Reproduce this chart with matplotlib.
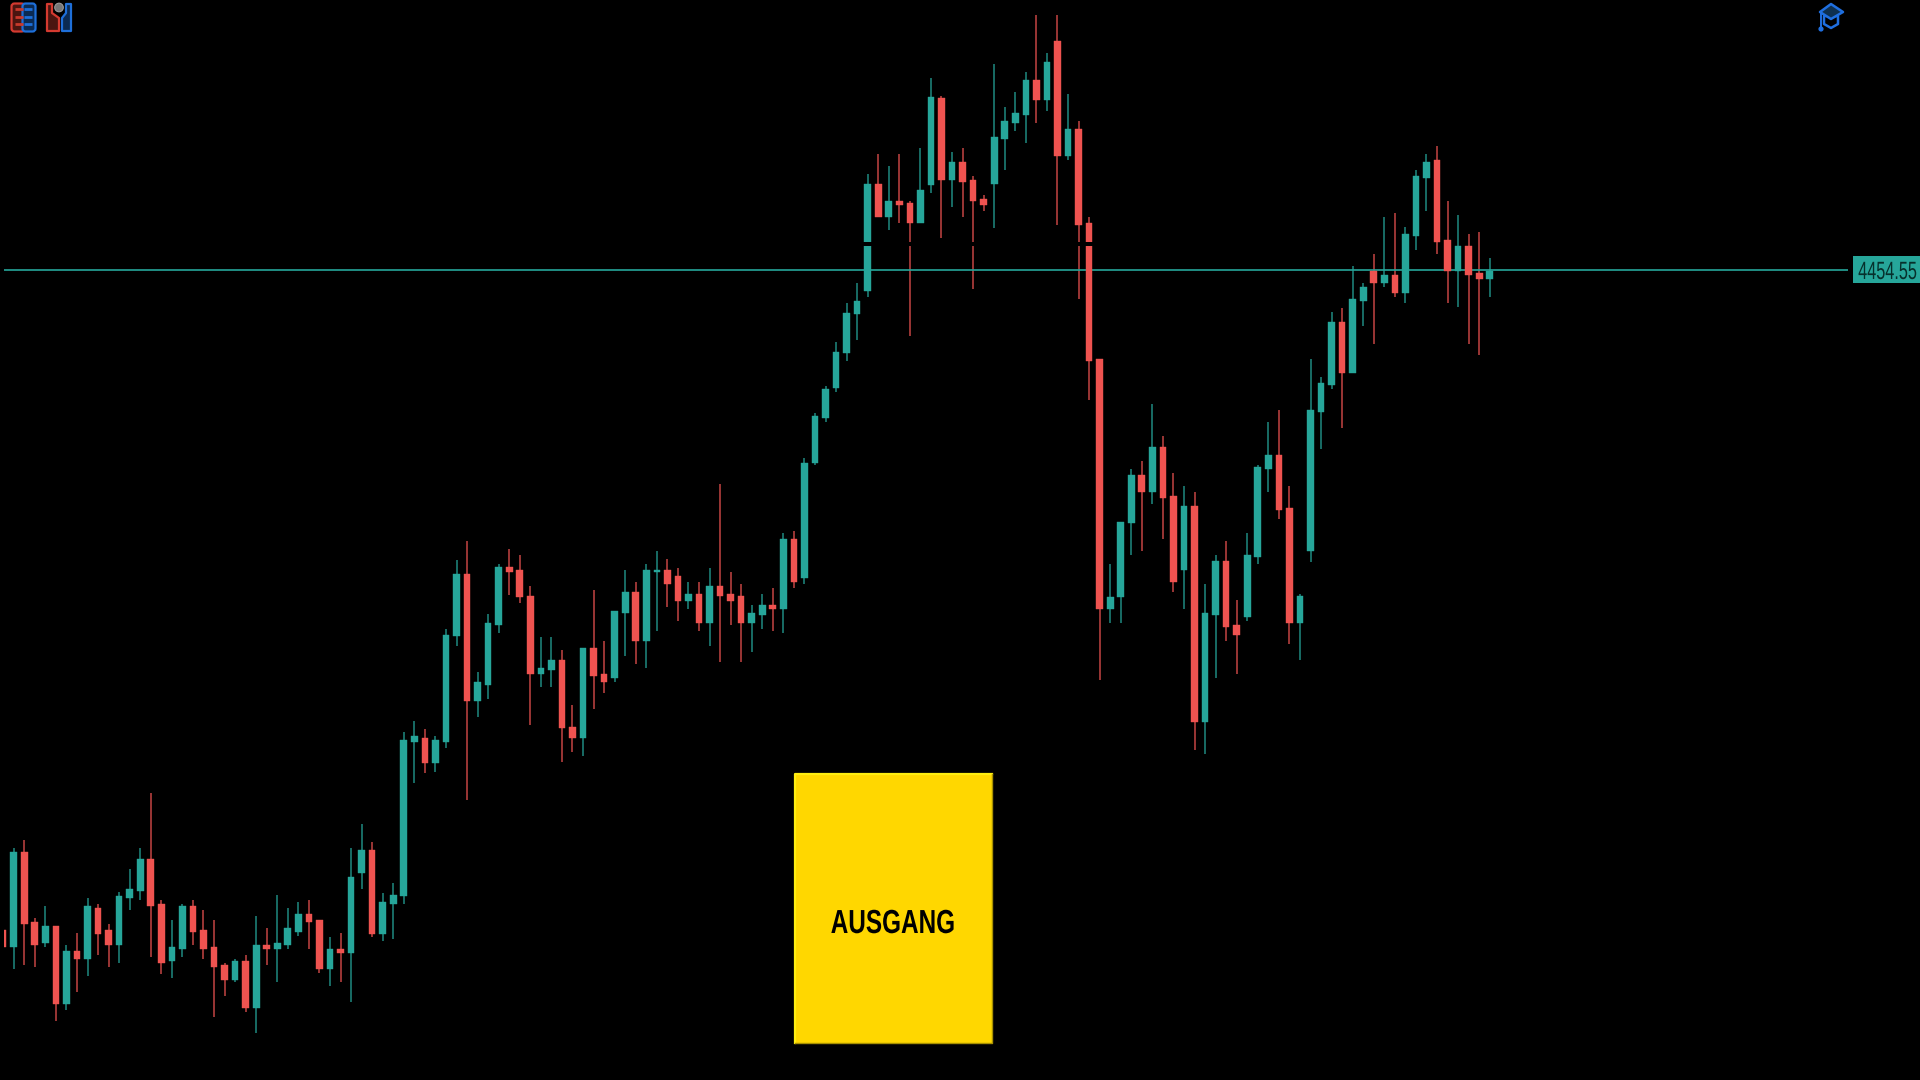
import matplotlib
matplotlib.use('Agg')
import matplotlib.pyplot as plt
from matplotlib.patches import Rectangle, Polygon, Circle, FancyBboxPatch
from matplotlib.patheffects import AbstractPathEffect
from matplotlib.transforms import Affine2D

opens = [3795.2, 3777.9, 3873.2, 3802.9, 3781.6, 3799.2, 3721.2, 3773.6, 3765.9, 3816.6,
         3795.2, 3779.6, 3826.6, 3834.2, 3865.6, 3820.6, 3764.2, 3775.9, 3818.6, 3795.2,
         3777.6, 3760.2, 3744.6, 3763.9, 3717.2, 3779.6, 3775.9, 3779.6, 3793.2, 3810.9,
         3805.2, 3756.2, 3775.9, 3771.9, 3851.9, 3875.2, 3791.2, 3820.6, 3828.6, 3982.9,
         3986.6, 3961.6, 3982.9, 4088.6, 4150.6, 4023.9, 4039.6, 4100.2, 4158.2, 4154.6,
         4129.2, 4051.2, 4055.2, 4064.6, 3998.2, 3986.6, 4076.6, 4051.2, 4047.2, 4111.6,
         4133.2, 4084.2, 4152.9, 4154.6, 4148.6, 4123.6, 4131.2, 4101.9, 4138.9, 4131.2,
         4129.2, 4101.9, 4109.6, 4119.6, 4115.6, 4185.9, 4146.9, 4261.9, 4306.9, 4336.9,
         4371.6, 4410.6, 4433.9, 4541.2, 4508.2, 4523.6, 4521.6, 4502.2, 4539.6, 4627.2,
         4545.2, 4562.9, 4545.2, 4525.6, 4541.2, 4586.2, 4601.9, 4609.6, 4644.9, 4625.2,
         4683.9, 4568.6, 4595.9, 4502.2, 4365.6, 4115.9, 4127.6, 4201.6, 4250.2, 4232.9,
         4277.6, 4228.9, 4154.9, 4219.2, 4002.6, 4109.9, 4164.2, 4099.9, 4107.9, 4168.2,
         4256.2, 4269.9, 4217.2, 4101.9, 4174.2, 4312.9, 4340.2, 4402.6, 4352.2, 4424.2,
         4453.6, 4441.9, 4449.6, 4432.2, 4488.9, 4547.2, 4564.9, 4484.6, 4453.6, 4478.9,
         4451.6, 4445.6]

closes = [3777.9, 3873.2, 3801.2, 3779.6, 3799.2, 3721.2, 3773.6, 3765.9, 3818.6, 3791.2,
          3779.6, 3828.6, 3836.2, 3865.6, 3818.6, 3762.2, 3777.6, 3818.6, 3793.2, 3775.9,
          3758.2, 3744.6, 3763.9, 3717.2, 3779.6, 3775.9, 3781.6, 3797.2, 3810.9, 3802.9,
          3756.2, 3775.9, 3771.9, 3847.9, 3875.2, 3791.2, 3822.6, 3830.2, 3984.9, 3988.6,
          3961.6, 3984.6, 4090.2, 4150.6, 4023.9, 4043.2, 4101.9, 4158.2, 4152.9, 4127.6,
          4051.2, 4056.9, 4064.6, 3996.6, 3986.6, 4076.6, 4049.2, 4043.2, 4113.6, 4133.2,
          4084.2, 4154.6, 4154.6, 4140.9, 4123.6, 4131.2, 4101.9, 4138.9, 4129.2, 4123.6,
          4101.9, 4111.6, 4119.6, 4115.6, 4185.9, 4143.2, 4261.9, 4308.9, 4335.9, 4373.2,
          4412.2, 4423.9, 4541.2, 4508.2, 4523.6, 4519.9, 4502.2, 4535.2, 4627.6, 4545.2,
          4562.9, 4543.2, 4523.9, 4519.9, 4588.2, 4603.9, 4611.6, 4644.9, 4625.2, 4662.6,
          4568.6, 4595.9, 4500.2, 4363.9, 4115.9, 4127.6, 4203.2, 4250.2, 4232.9, 4277.6,
          4227.2, 4143.2, 4219.2, 4002.6, 4111.6, 4164.2, 4098.2, 4090.2, 4170.2, 4258.2,
          4269.9, 4215.2, 4101.9, 4129.2, 4314.9, 4342.2, 4402.6, 4352.2, 4425.9, 4437.6,
          4441.9, 4449.6, 4432.2, 4490.6, 4549.2, 4562.9, 4482.9, 4453.6, 4478.9, 4449.6,
          4445.6, 4453.6]

highs = [3795.2, 3877.2, 3884.9, 3806.9, 3818.9, 3799.2, 3779.6, 3791.6, 3826.6, 3820.6,
         3801.2, 3832.6, 3855.9, 3877.2, 3931.9, 3824.6, 3805.2, 3820.6, 3824.6, 3814.9,
         3805.2, 3762.2, 3765.9, 3769.9, 3808.9, 3797.2, 3830.2, 3816.6, 3822.6, 3824.6,
         3805.2, 3787.6, 3791.6, 3877.2, 3900.9, 3883.2, 3832.2, 3842.2, 3992.6, 4004.2,
         3996.2, 3988.6, 4096.2, 4164.6, 4183.9, 4053.2, 4111.2, 4160.6, 4176.2, 4170.2,
         4138.9, 4088.2, 4088.2, 4074.6, 4019.9, 4076.6, 4134.9, 4084.2, 4113.6, 4154.6,
         4142.9, 4160.6, 4174.2, 4166.2, 4156.6, 4142.9, 4142.9, 4156.6, 4240.6, 4152.6,
         4140.9, 4119.6, 4131.2, 4137.2, 4191.6, 4193.6, 4266.9, 4311.9, 4338.9, 4383.2,
         4422.2, 4441.6, 4551.2, 4570.6, 4558.9, 4570.6, 4523.6, 4576.6, 4646.9, 4629.2,
         4572.6, 4576.6, 4549.2, 4529.6, 4660.6, 4617.6, 4633.2, 4652.9, 4709.6, 4672.2,
         4709.6, 4631.2, 4603.9, 4508.2, 4365.6, 4160.6, 4203.2, 4256.2, 4263.9, 4320.6,
         4289.2, 4252.2, 4238.6, 4232.6, 4141.2, 4170.2, 4183.9, 4125.2, 4191.9, 4260.2,
         4303.2, 4314.9, 4238.6, 4131.2, 4365.6, 4347.9, 4412.6, 4416.6, 4459.2, 4441.6,
         4471.2, 4508.2, 4512.2, 4498.2, 4554.9, 4570.9, 4578.6, 4523.6, 4510.2, 4490.6,
         4492.6, 4466.9]

lows = [3777.9, 3756.2, 3760.2, 3758.2, 3777.6, 3703.6, 3715.2, 3732.9, 3748.6, 3769.9,
        3758.2, 3762.2, 3814.9, 3824.6, 3767.9, 3750.6, 3746.6, 3767.9, 3779.6, 3765.9,
        3707.6, 3728.9, 3742.6, 3713.2, 3691.9, 3760.2, 3742.6, 3775.9, 3789.2, 3775.9,
        3752.2, 3738.9, 3742.6, 3723.2, 3836.2, 3787.6, 3783.6, 3785.6, 3820.6, 3941.9,
        3951.9, 3952.9, 3976.9, 4078.6, 3924.9, 4008.2, 4025.6, 4092.2, 4129.6, 4121.6,
        4000.2, 4037.6, 4037.6, 3963.2, 3972.9, 3969.2, 4015.9, 4031.6, 4043.2, 4068.9,
        4060.9, 4056.9, 4094.2, 4117.6, 4103.9, 4115.6, 4094.2, 4078.6, 4062.9, 4099.9,
        4062.9, 4072.6, 4096.2, 4094.2, 4092.2, 4137.2, 4140.9, 4259.9, 4302.9, 4332.9,
        4363.9, 4384.9, 4427.9, 4508.2, 4494.6, 4502.2, 4389.2, 4502.2, 4531.6, 4486.6,
        4517.9, 4508.2, 4435.9, 4513.9, 4496.6, 4554.9, 4594.2, 4582.2, 4601.9, 4613.6,
        4500.2, 4564.6, 4426.2, 4324.9, 4045.2, 4101.9, 4101.9, 4170.2, 4174.2, 4221.2,
        4185.9, 4133.2, 4115.6, 3974.9, 3970.9, 4047.2, 4084.2, 4051.2, 4103.9, 4160.6,
        4232.9, 4205.6, 4080.6, 4064.9, 4162.6, 4275.9, 4336.2, 4297.2, 4352.2, 4398.6,
        4381.2, 4437.9, 4428.2, 4422.2, 4474.9, 4513.9, 4470.9, 4422.2, 4418.2, 4381.2,
        4369.6, 4428.2]

last_price = 4454.55
last_price_label = '4454.55'
exit_label = 'AUSGANG'

UP = '#26a69a'
DOWN = '#ef5350'
UP_WICK = '#1f8a80'
DOWN_WICK = '#c44543'

W, H = 1920, 1080


class Squeeze(AbstractPathEffect):
    # no condensed font is installed, so narrow the glyphs around an anchor x
    def __init__(self, anchor_px, factor):
        super().__init__()
        self.anchor_px = anchor_px
        self.factor = factor

    def draw_path(self, renderer, gc, tpath, affine, rgbFace=None):
        narrow = Affine2D().translate(-self.anchor_px, 0).scale(self.factor, 1).translate(self.anchor_px, 0)
        renderer.draw_path(gc, tpath, affine + narrow, rgbFace)


fig = plt.figure(figsize=(W / 100, H / 100), dpi=100, facecolor='black')

# price axes, no scale shown in the picture
ax = fig.add_axes([4 / W, 0, (W - 4) / W, 1], facecolor='black')
ax.set_xlim(0.08, 181.81)
ax.set_ylim(3644.9, 4724.9)
ax.axis('off')

xs = list(range(len(opens)))
wick_colors = [UP_WICK if c >= o else DOWN_WICK for o, c in zip(opens, closes)]
body_colors = [UP if c >= o else DOWN for o, c in zip(opens, closes)]
bottoms = [min(o, c) for o, c in zip(opens, closes)]
heights = [abs(c - o) for o, c in zip(opens, closes)]

ax.vlines(xs, lows, highs, colors=wick_colors, linewidth=1.1, zorder=1)
ax.hlines(last_price, 0, 175.0, colors=UP, linewidth=1.2, zorder=2)
ax.bar(xs, heights, width=0.63, bottom=bottoms, color=body_colors,
       edgecolor=body_colors, linewidth=0.3, zorder=3)

# thin black strip that cuts the candles in the reference
ax.add_patch(Rectangle((81.5, 4479.0), 22.5, 4.0, color='black', lw=0, zorder=4))

# overlay in pixels for the buttons and icons
ui = fig.add_axes([0, 0, 1, 1], facecolor='none')
ui.set_xlim(0, W)
ui.set_ylim(H, 0)
ui.axis('off')

# last price tag
ui.add_patch(Rectangle((1853, 256), 67, 27, color=UP, lw=0))
tag = ui.text(1917, 279, last_price_label, color='#06302c', fontsize=18, ha='right', va='baseline',
              family='Liberation Sans')
tag.set_path_effects([Squeeze(1917, 0.65)])

# exit button
ui.add_patch(Rectangle((795, 774), 197, 269, facecolor='#ffd700', edgecolor='none'))
ui.plot([795, 795, 992], [1043, 774, 774], color='#ffee10', lw=1.6)
ui.plot([795, 992, 992], [1043, 1043, 774], color='#a89000', lw=1.0)
exit_text = ui.text(893, 933, exit_label, color='black', fontsize=24, fontweight='bold',
                    ha='center', va='baseline', family='Liberation Sans')
exit_text.set_path_effects([Squeeze(893, 0.73)])

# list icon
ui.add_patch(FancyBboxPatch((13, 5), 10, 25, boxstyle='round,pad=1.5,rounding_size=3',
                            facecolor='#4a1510', edgecolor='#d43a30', lw=1.6))
ui.add_patch(FancyBboxPatch((24, 5), 10, 25, boxstyle='round,pad=1.5,rounding_size=3',
                            facecolor='#0b2a52', edgecolor='#1e6fd9', lw=1.6))
for row_y in [9, 17, 24]:
    ui.plot([15, 23], [row_y, row_y], color='#c8392c', lw=2.0, solid_capstyle='butt')
    ui.plot([24, 32], [row_y, row_y], color='#1e6fd9', lw=2.0, solid_capstyle='butt')

# chart icon
ui.add_patch(Polygon([(47, 4), (52, 4), (52, 13), (59, 18), (59, 31), (47, 31)],
                     facecolor='#4a1510', edgecolor='#d43a30', lw=1.6, joinstyle='round'))
ui.add_patch(Polygon([(71, 4), (66, 4), (66, 13), (62, 18), (62, 31), (71, 31)],
                     facecolor='#0b2a52', edgecolor='#1e6fd9', lw=1.6, joinstyle='round'))
ui.add_patch(Circle((59, 7.5), 4.3, facecolor='#777777', edgecolor='#999999', lw=0.8))

# graduation cap
cap_blue = '#1f6fe0'
ui.add_patch(Polygon([(1824, 16), (1824, 24), (1831, 28), (1838, 24), (1838, 16)],
                     facecolor='none', edgecolor=cap_blue, lw=1.8, joinstyle='round'))
ui.add_patch(Polygon([(1831, 4), (1843, 12), (1831, 19), (1820, 12)],
                     facecolor='#0e3050', edgecolor=cap_blue, lw=1.8, joinstyle='round'))
ui.plot([1821, 1821], [12, 28], color=cap_blue, lw=1.4)
ui.add_patch(Circle((1821, 29), 2.6, color=cap_blue, lw=0))

fig.savefig('out.png', dpi=100, facecolor='black')
